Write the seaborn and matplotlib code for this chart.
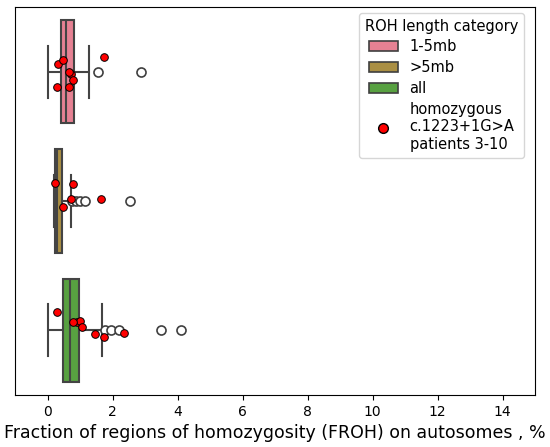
import numpy as np
import pandas as pd
import matplotlib
matplotlib.use("Agg")
import matplotlib.pyplot as plt
from matplotlib.patches import Patch
from matplotlib.lines import Line2D
import seaborn as sns

# cohort FROH values (%) per ROH length category
categories = ["1-5mb", ">5mb", "all"]
froh_1_5mb = [0.01, 0.12, 0.22, 0.30, 0.36, 0.40, 0.44, 0.48, 0.51, 0.55, 0.58,
              0.61, 0.65, 0.70, 0.76, 0.83, 0.95, 1.10, 1.27, 1.55, 2.89]
froh_gt5mb = [0.19, 0.20, 0.21, 0.22, 0.22, 0.23, 0.24, 0.25, 0.26, 0.27, 0.28,
              0.29, 0.30, 0.32, 0.34, 0.36, 0.38, 0.41, 0.44, 0.71, 0.76, 0.89,
              1.01, 1.16, 2.55]
froh_all = [0.01, 0.18, 0.28, 0.35, 0.40, 0.43, 0.45, 0.47, 0.50, 0.54, 0.58,
            0.61, 0.64, 0.67, 0.70, 0.73, 0.77, 0.81, 0.85, 0.89, 0.94, 0.98,
            1.30, 1.68, 1.78, 1.94, 2.20, 3.48, 4.10]

# homozygous c.1223+1G>A patients 3-10
pat_1_5mb = [0.71, 0.79, 0.32, 0.67, 0.29, 0.65, 1.73, 0.49]
pat_gt5mb = [0.79, 1.64, 0.23, 0.71, 0.47]
pat_all = [0.90, 1.73, 1.47, 0.29, 2.35, 0.99, 1.05, 0.78]

cohort = pd.DataFrame({
    "froh": froh_1_5mb + froh_gt5mb + froh_all,
    "cat": [categories[0]] * len(froh_1_5mb) + [categories[1]] * len(froh_gt5mb)
           + [categories[2]] * len(froh_all),
})
patients = pd.DataFrame({
    "froh": pat_1_5mb + pat_gt5mb + pat_all,
    "cat": [categories[0]] * len(pat_1_5mb) + [categories[1]] * len(pat_gt5mb)
           + [categories[2]] * len(pat_all),
})

palette = sns.color_palette("husl", 6)[:3]

fig, ax = plt.subplots(figsize=(5.5, 4.47), dpi=100)
fig.subplots_adjust(left=15 / 550, right=535 / 550, top=1 - 7 / 447, bottom=1 - 395 / 447)

sns.boxplot(data=cohort, x="froh", y="cat", hue="cat", order=categories,
            hue_order=categories, palette=palette, legend=False, ax=ax,
            fliersize=6.5, linewidth=1.5,
            flierprops=dict(markerfacecolor="white", markeredgecolor="#3f3f3f",
                            markeredgewidth=1.2))

np.random.seed(3)
sns.stripplot(data=patients, x="froh", y="cat", order=categories, color="red",
              edgecolor="black", linewidth=0.7, size=5.5, jitter=0.15, ax=ax)

ax.set_xlim(-1, 15)
ax.set_yticks([])
ax.set_ylabel("")
ax.set_xlabel("Fraction of regions of homozygosity (FROH) on autosomes , %", fontsize=12.5)
ax.tick_params(axis="x", labelsize=10)

handles = [Patch(facecolor=sns.desaturate(c, 0.75), edgecolor="#3f3f3f", linewidth=1.2)
           for c in palette]
handles.append(Line2D([], [], marker="o", linestyle="", markerfacecolor="red",
                      markeredgecolor="black", markersize=7))
labels = categories + ["homozygous\nc.1223+1G>A\npatients 3-10"]
ax.legend(handles, labels, title="ROH length category", loc="upper right",
          bbox_to_anchor=(0.979, 0.985), borderaxespad=0, labelspacing=0.4,
          fontsize=10.5, title_fontsize=10.5)

fig.savefig("out.png", dpi=100)
